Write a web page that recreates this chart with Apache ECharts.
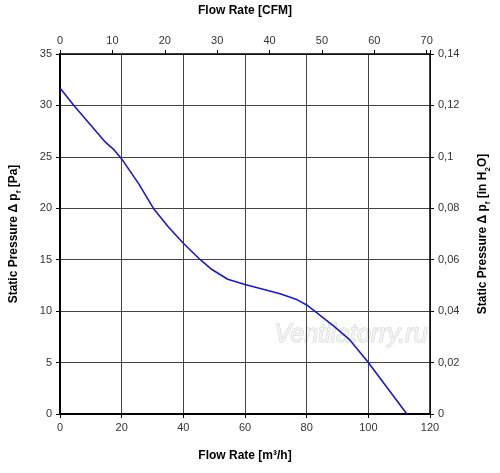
<!DOCTYPE html>
<html>
<head>
<meta charset="utf-8">
<script src="https://cdn.jsdelivr.net/npm/echarts@6/dist/echarts.min.js"></script>
<style>
  html, body { margin: 0; padding: 0; background: #fff; }
  #chart { width: 500px; height: 473px; }
</style>
</head>
<body>
<div id="chart"></div>
<script>
// fan curve: flow rate [m3/h] vs static pressure [Pa]
const flowM3h = [0, 4.5, 14.8, 17.5, 20, 25.5, 30.5, 35.1, 40, 45.5, 49, 54.4, 60, 71.4, 77, 80, 82.6, 89, 94, 100, 112.5];
const pressurePa = [31.7, 30, 26.4, 25.7, 24.8, 22.4, 19.9, 18.2, 16.6, 15, 14.1, 13.1, 12.6, 11.7, 11.1, 10.6, 10, 8.5, 7.2, 5, 0];

const M3H_PER_CFM = 1.699;
const flowMax = 120;
const cfmMax = flowMax / M3H_PER_CFM;

const font = 'Liberation Sans, Arial, sans-serif';
const labelStyle = { color: '#333', fontSize: 11, fontFamily: font, margin: 8 };
const titleStyle = { color: '#000', fontSize: 12, fontWeight: 'bold', fontFamily: font };
const subRich = {
  sub: { fontSize: 8, fontWeight: 'bold', fontFamily: font, color: '#000', verticalAlign: 'bottom', padding: [0, 0, -3, 0] }
};

const chart = echarts.init(document.getElementById('chart'));

chart.setOption({
  animation: false,
  grid: { left: 57, right: 68, top: 54, bottom: 59 },
  xAxis: [
    {
      type: 'value', position: 'bottom', min: 0, max: flowMax, interval: 20,
      name: 'Flow Rate [m³/h]', nameLocation: 'middle', nameGap: 36,
      nameTextStyle: titleStyle,
      axisLine: { onZero: false, lineStyle: { color: '#000', width: 2 } },
      axisTick: { show: true, length: 4, lineStyle: { color: '#000' } },
      axisLabel: labelStyle,
      splitLine: { show: true, lineStyle: { color: '#444', width: 1 } }
    },
    {
      type: 'value', position: 'top', min: 0, max: cfmMax, interval: 10,
      name: 'Flow Rate [CFM]', nameLocation: 'middle', nameGap: 37,
      nameTextStyle: titleStyle,
      axisLine: { onZero: false, lineStyle: { color: '#000', width: 1.5 } },
      axisTick: { show: true, length: 4, lineStyle: { color: '#000' } },
      axisLabel: Object.assign({}, labelStyle, {
        formatter: v => (Math.abs(v - Math.round(v / 10) * 10) < 1e-6 ? String(Math.round(v)) : '')
      }),
      splitLine: { show: false }
    }
  ],
  yAxis: [
    {
      type: 'value', position: 'left', min: 0, max: 35, interval: 5,
      name: 'Static Pressure Δ p{sub|f} [Pa]', nameLocation: 'middle', nameGap: 40, nameRotate: 90,
      nameTextStyle: Object.assign({}, titleStyle, { rich: subRich }),
      axisLine: { onZero: false, lineStyle: { color: '#000', width: 2 } },
      axisTick: { show: true, length: 4, lineStyle: { color: '#000' } },
      axisLabel: labelStyle,
      splitLine: { show: true, lineStyle: { color: '#444', width: 1 } }
    },
    {
      type: 'value', position: 'right', min: 0, max: 0.14, interval: 0.02,
      name: 'Static Pressure Δ p{sub|f} [in H{sub|2}O]', nameLocation: 'middle', nameGap: 47, nameRotate: 90,
      nameTextStyle: Object.assign({}, titleStyle, { rich: subRich }),
      axisLine: { onZero: false, lineStyle: { color: '#000', width: 1.5 } },
      axisTick: { show: true, length: 4, lineStyle: { color: '#000' } },
      axisLabel: Object.assign({}, labelStyle, {
        formatter: v => String(+v.toFixed(2)).replace('.', ',')
      }),
      splitLine: { show: false }
    }
  ],
  graphic: [
    {
      type: 'text', left: 274, top: 322, silent: true,
      style: {
        text: 'Ventilatorry.ru',
        font: 'italic 25px Liberation Sans, Arial, sans-serif',
        fill: '#f4f4f4', stroke: '#cfcfcf', lineWidth: 1
      }
    }
  ],
  series: [
    {
      type: 'line', xAxisIndex: 0, yAxisIndex: 0,
      data: flowM3h.map((x, i) => [x, pressurePa[i]]),
      showSymbol: false, smooth: false,
      lineStyle: { color: '#1a1acc', width: 1.6 }
    }
  ]
});
</script>
</body>
</html>
